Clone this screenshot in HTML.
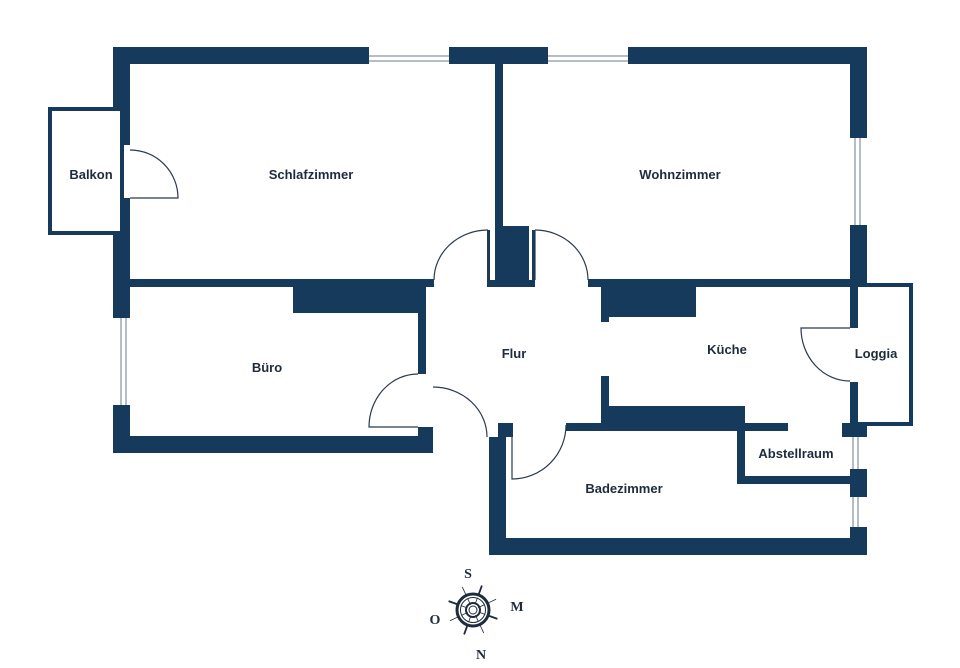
<!DOCTYPE html>
<html><head><meta charset="utf-8"><style>
html,body{margin:0;padding:0;background:#fff;}
svg{display:block;}
text{font-family:"Liberation Sans",sans-serif;font-weight:bold;font-size:13px;fill:#1d2b3c;text-anchor:middle;}
</style></head><body>
<svg width="960" height="668" viewBox="0 0 960 668" xmlns="http://www.w3.org/2000/svg">
<g fill="#163a5c">
<rect x="113" y="47" width="256" height="17"/>
<rect x="449" y="47" width="99" height="17"/>
<rect x="628" y="47" width="239" height="17"/>
<rect x="113" y="47" width="17" height="60"/>
<rect x="122" y="107" width="8" height="38"/>
<rect x="122" y="198" width="8" height="37"/>
<rect x="113" y="235" width="17" height="83"/>
<rect x="113" y="405" width="17" height="48"/>
<rect x="113" y="436" width="320" height="17"/>
<rect x="418" y="427" width="15" height="10"/>
<rect x="113" y="279" width="321" height="8"/>
<rect x="293" y="287" width="133" height="26"/>
<rect x="418" y="313" width="8" height="61"/>
<rect x="495" y="64" width="8" height="162"/>
<rect x="495" y="226" width="34" height="61"/>
<rect x="487" y="280" width="48" height="7"/>
<rect x="487" y="230" width="3" height="50"/>
<rect x="532" y="230" width="3" height="50"/>
<rect x="850" y="47" width="17" height="91"/>
<rect x="850" y="225" width="17" height="62"/>
<rect x="588" y="279" width="270" height="8"/>
<rect x="601" y="287" width="95" height="30"/>
<rect x="601" y="287" width="8" height="35"/>
<rect x="850" y="287" width="8" height="41"/>
<rect x="850" y="382" width="8" height="44"/>
<rect x="842" y="423" width="25" height="14"/>
<rect x="850" y="469" width="17" height="28"/>
<rect x="850" y="527" width="17" height="28"/>
<rect x="566" y="423" width="222" height="8"/>
<rect x="601" y="406" width="144" height="25"/>
<rect x="601" y="376" width="8" height="30"/>
<rect x="737" y="423" width="8" height="61"/>
<rect x="737" y="476" width="113" height="8"/>
<rect x="489" y="437" width="17" height="118"/>
<rect x="489" y="538" width="378" height="17"/>
<rect x="498" y="423" width="15" height="14"/>
</g>
<rect x="50" y="109" width="72" height="124" fill="none" stroke="#163a5c" stroke-width="4"/>
<polyline points="867,285 911,285 911,424 858,424" fill="none" stroke="#163a5c" stroke-width="4"/>
<g fill="none" stroke="#6b7b8c" stroke-width="1">
<line x1="369" y1="56" x2="449" y2="56"/><line x1="369" y1="61" x2="449" y2="61"/>
<line x1="548" y1="56" x2="628" y2="56"/><line x1="548" y1="61" x2="628" y2="61"/>
<line x1="855" y1="138" x2="855" y2="225"/><line x1="860" y1="138" x2="860" y2="225"/>
<line x1="121" y1="318" x2="121" y2="405"/><line x1="126" y1="318" x2="126" y2="405"/>
<line x1="853" y1="437" x2="853" y2="469"/><line x1="858" y1="437" x2="858" y2="469"/>
<line x1="853" y1="497" x2="853" y2="527"/><line x1="858" y1="497" x2="858" y2="527"/>
</g>
<g fill="none" stroke="#2b3b4c" stroke-width="1.2">
<path d="M130 198 H178 A48 48 0 0 0 130 150"/>
<path d="M488 230 V280"/><path d="M488 230 A54 50 0 0 0 434 280"/>
<path d="M535 230 V280"/><path d="M535 230 A53 50 0 0 1 588 280"/>
<path d="M418 427 H369 A49 53 0 0 1 418 374"/>
<path d="M433 387 A54 50 0 0 1 487 437"/>
<path d="M512 431 V479 A54 54 0 0 0 566 425"/>
<path d="M850 328 H801 A49 53 0 0 0 850 381"/>
</g>
<text x="91" y="179">Balkon</text>
<text x="311" y="179">Schlafzimmer</text>
<text x="680" y="179">Wohnzimmer</text>
<text x="267" y="372">Büro</text>
<text x="514" y="358">Flur</text>
<text x="727" y="354">Küche</text>
<text x="876" y="358">Loggia</text>
<text x="796" y="458">Abstellraum</text>
<text x="624" y="493">Badezimmer</text>
<g transform="translate(473,610)" fill="none" stroke="#1d2b3c">
<g transform="rotate(20)">
<line x1="0" y1="-16" x2="0" y2="-26" stroke-width="1.8"/>
<line x1="0" y1="16" x2="0" y2="26" stroke-width="1.8"/>
<line x1="-16" y1="0" x2="-26" y2="0" stroke-width="1.8"/>
<line x1="16" y1="0" x2="26" y2="0" stroke-width="1.8"/>
<g stroke-width="0.8"><line x1="11" y1="-11" x2="18" y2="-18"/><line x1="-11" y1="-11" x2="-18" y2="-18"/><line x1="11" y1="11" x2="18" y2="18"/><line x1="-11" y1="11" x2="-18" y2="18"/>
<line x1="0" y1="-6" x2="0" y2="-13"/><line x1="0" y1="6" x2="0" y2="13"/><line x1="6" y1="0" x2="13" y2="0"/><line x1="-6" y1="0" x2="-13" y2="0"/>
<line x1="4" y1="4" x2="9" y2="9"/><line x1="-4" y1="4" x2="-9" y2="9"/><line x1="4" y1="-4" x2="9" y2="-9"/><line x1="-4" y1="-4" x2="-9" y2="-9"/></g>
</g>
<circle r="16" stroke-width="3"/>
<circle r="12.5" stroke-width="1"/>
<circle r="7" stroke-width="2"/>
<circle r="4" stroke-width="1"/>
</g>
<text x="468" y="578" style="font-family:'Liberation Serif',serif;font-size:14px">S</text>
<text x="517" y="611" style="font-family:'Liberation Serif',serif;font-size:14px">M</text>
<text x="435" y="624" style="font-family:'Liberation Serif',serif;font-size:14px">O</text>
<text x="481" y="659" style="font-family:'Liberation Serif',serif;font-size:14px">N</text>
</svg>
</body></html>
